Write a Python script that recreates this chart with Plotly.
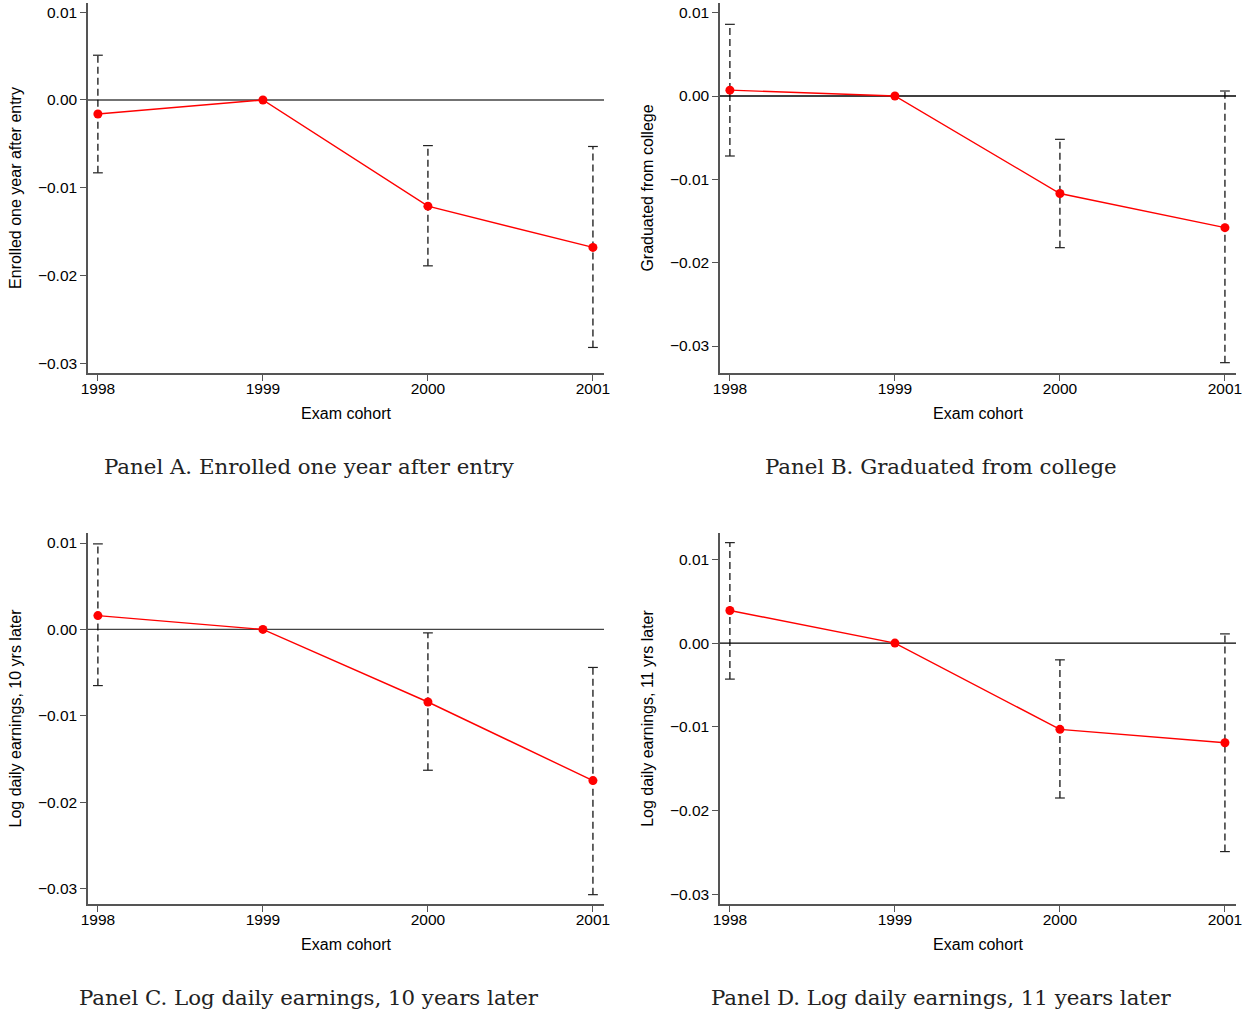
import plotly.graph_objects as go

cohorts = [1998, 1999, 2000, 2001]
tick_years = [1998, 1999, 2000, 2001]
ytick_vals = [0.01, 0.0, -0.01, -0.02, -0.03]
ytick_text = ["0.01", "0.00", "\u22120.01", "\u22120.02", "\u22120.03"]

enroll_est = [-0.0016, 0.0, -0.0121, -0.0168]
enroll_lo = [-0.0083, None, -0.0189, -0.0282]
enroll_hi = [0.0051, None, -0.0052, -0.0053]

grad_est = [0.0007, 0.0, -0.0117, -0.0158]
grad_lo = [-0.0072, None, -0.0182, -0.0320]
grad_hi = [0.0086, None, -0.0052, 0.0006]

earn10_est = [0.0016, 0.0, -0.0084, -0.0175]
earn10_lo = [-0.0065, None, -0.0163, -0.0307]
earn10_hi = [0.0099, None, -0.0004, -0.0044]

earn11_est = [0.0039, 0.0, -0.0103, -0.0119]
earn11_lo = [-0.0043, None, -0.0185, -0.0249]
earn11_hi = [0.0120, None, -0.0020, 0.0011]

panels = [
    dict(est=enroll_est, lo=enroll_lo, hi=enroll_hi, ytitle="Enrolled one year after entry",
         caption="Panel A. Enrolled one year after entry", yrange=[-0.03111, 0.01105], zc="#444444"),
    dict(est=grad_est, lo=grad_lo, hi=grad_hi, ytitle="Graduated from college",
         caption="Panel B. Graduated from college", yrange=[-0.03324, 0.01116], zc="#000000"),
    dict(est=earn10_est, lo=earn10_lo, hi=earn10_hi, ytitle="Log daily earnings, 10 yrs later",
         caption="Panel C. Log daily earnings, 10 years later", yrange=[-0.03178, 0.01116], zc="#444444"),
    dict(est=earn11_est, lo=earn11_lo, hi=earn11_hi, ytitle="Log daily earnings, 11 yrs later",
         caption="Panel D. Log daily earnings, 11 years later", yrange=[-0.03116, 0.01315], zc="#000000"),
]

W, H = 1250, 1014
xdoms = [[88 / W, 604 / W], [720 / W, 1236 / W]]
ydoms = [[1 - 373 / H, 1 - 3 / H], [1 - 904 / H, 1 - 533 / H]]
cap_x = [309 / W, 941 / W]
cap_y = [1 - 466 / H, 1 - 997 / H]

fig = go.Figure()
tickfont = dict(family="Liberation Sans, Arial, sans-serif", size=15.5, color="black")
titlefont = dict(family="Liberation Sans, Arial, sans-serif", size=16, color="black")
axcol = "#555555"

for i, p in enumerate(panels):
    r, c = divmod(i, 2)
    n = i + 1
    xa = "x" if n == 1 else f"x{n}"
    ya = "y" if n == 1 else f"y{n}"
    sx, sy, cx, cy = [], [], [], []
    for yr, lo, hi in zip(cohorts, p["lo"], p["hi"]):
        if lo is None:
            continue
        sx += [yr, yr, None]
        sy += [lo, hi, None]
        cx += [yr, yr]
        cy += [lo, hi]
    fig.add_trace(go.Scatter(x=sx, y=sy, mode="lines", xaxis=xa, yaxis=ya,
                             line=dict(color="#000000", width=1.2, dash="7px,4px"),
                             showlegend=False, hoverinfo="skip"))
    fig.add_trace(go.Scatter(x=cx, y=cy, mode="markers", xaxis=xa, yaxis=ya,
                             marker=dict(symbol="line-ew", size=7,
                                         line=dict(color="#222222", width=1.2)),
                             showlegend=False, hoverinfo="skip"))
    fig.add_trace(go.Scatter(x=cohorts, y=p["est"], mode="lines+markers", xaxis=xa, yaxis=ya,
                             line=dict(color="#ff0000", width=1.4),
                             marker=dict(color="#ff0000", size=9),
                             showlegend=False))
    fig.add_shape(type="line", xref=f"{xa} domain", yref=ya, x0=0, x1=1, y0=0, y1=0,
                  line=dict(color=p["zc"], width=1.3), layer="below")
    xkey = "xaxis" if n == 1 else f"xaxis{n}"
    ykey = "yaxis" if n == 1 else f"yaxis{n}"
    fig.update_layout({
        xkey: dict(domain=xdoms[c], anchor=ya, range=[1997.94, 2001.067],
                   tickvals=tick_years, ticktext=[str(t) for t in tick_years],
                   showline=True, linecolor=axcol, linewidth=1.5, mirror=False,
                   ticks="outside", ticklen=6, tickcolor=axcol, tickwidth=1.2,
                   ticklabelstandoff=-5,
                   showgrid=False, zeroline=False, tickfont=tickfont,
                   title=dict(text="Exam cohort", font=titlefont, standoff=11),
                   automargin=False),
        ykey: dict(domain=ydoms[r], anchor=xa, range=p["yrange"],
                   tickvals=ytick_vals, ticktext=ytick_text,
                   showline=True, linecolor=axcol, linewidth=1.5,
                   ticks="outside", ticklen=6, tickcolor=axcol, tickwidth=1.2,
                   showgrid=False, zeroline=False, tickfont=tickfont,
                   title=dict(text=p["ytitle"], font=titlefont, standoff=12),
                   automargin=False),
    })
    fig.add_annotation(text=p["caption"], xref="paper", yref="paper",
                       x=cap_x[c], y=cap_y[r], xanchor="center", yanchor="middle",
                       showarrow=False,
                       font=dict(family="DejaVu Serif, serif", size=21.3, color="#222222"))

fig.update_layout(width=W, height=H, margin=dict(l=0, r=0, t=0, b=0),
                  plot_bgcolor="white", paper_bgcolor="white")
fig.write_html("out.html")
